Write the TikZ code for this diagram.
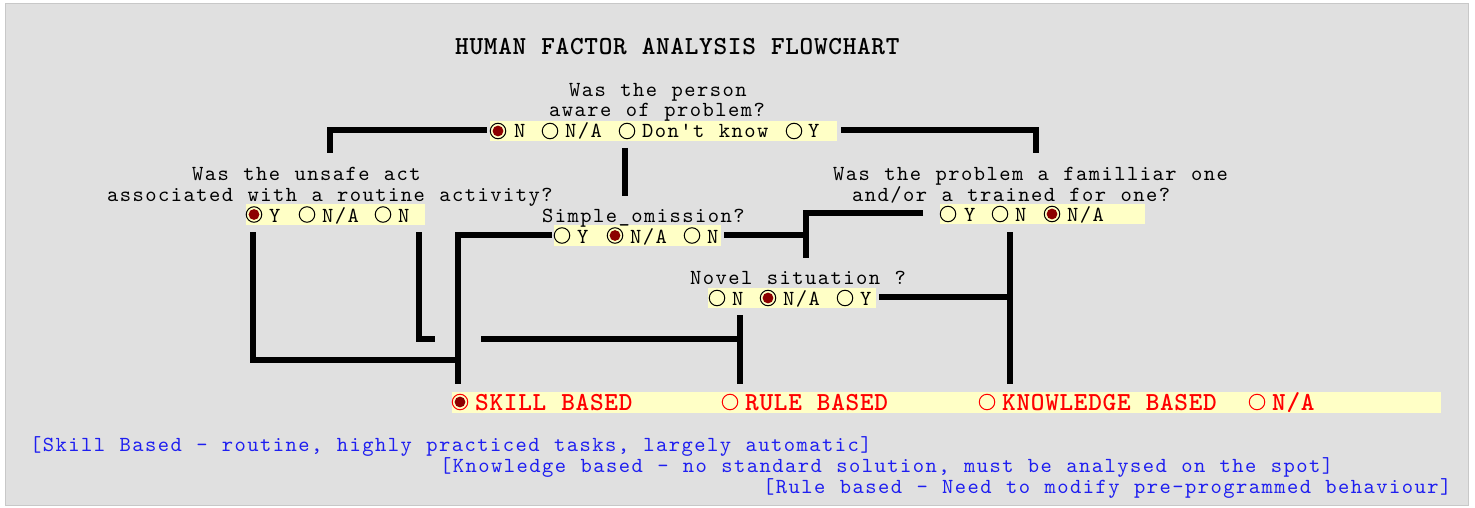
\documentclass[tikz,border=0pt]{standalone}
\usepackage{fontspec}
% typewriter faces, spaced to a fixed pitch
\newfontfamily\qfont{lmmono10-regular.otf}[LetterSpace=6.8,WordSpace={1.129,0,0}]
\newfontfamily\hfont{lmmonolt10-bold.otf}[LetterSpace=2.7,WordSpace={1.051,0,0}]
\definecolor{panel}{RGB}{224,224,224}
\definecolor{paneledge}{RGB}{200,200,200}
\definecolor{barfill}{RGB}{255,255,198}
\definecolor{selred}{RGB}{140,0,0}
\definecolor{resred}{RGB}{255,0,0}
\definecolor{noteblue}{RGB}{30,30,240}
\tikzset{
  q/.style={font=\qfont\fontsize{21.5}{26}\selectfont, anchor=base west, inner sep=0pt, text=black},
  note/.style={q, text=noteblue},
  heading/.style={font=\hfont\fontsize{26}{31}\selectfont, anchor=base west, inner sep=0pt, text=black},
  result/.style={heading, text=resred},
  bar/.style={fill=barfill, draw=none, anchor=north west, inner sep=0pt, outer sep=0pt},
  radio/.style={circle, draw=black, line width=1pt, inner sep=0pt, minimum size=15.5pt},
  selradio/.style={radio, path picture={\fill[selred] (path picture bounding box.center) circle (5.4pt);}},
  rradio/.style={radio, draw=resred},
  rselradio/.style={rradio, path picture={\fill[selred] (path picture bounding box.center) circle (5.4pt);}},
  wire/.style={line width=5.5pt, black, line join=miter, line cap=butt},
}
\begin{document}
\begin{tikzpicture}[x=1pt,y=-1pt]
\useasboundingbox (0,0) rectangle (1475,508);
\fill[white] (0,0) rectangle (1475,508);
\filldraw[fill=panel, draw=paneledge, line width=0.8pt] (5.5,3.5) rectangle (1468.5,505);

% title
\node[heading] (title) at (455,55) {HUMAN FACTOR ANALYSIS FLOWCHART};

% answer bars
\node[bar, minimum width=347pt, minimum height=20pt] (bar1) at (490,121) {};
\node[bar, minimum width=179pt, minimum height=21pt] (bar2) at (246,204) {};
\node[bar, minimum width=167pt, minimum height=21pt] (bar3) at (554,225) {};
\node[bar, minimum width=205pt, minimum height=20pt] (bar4) at (940,204) {};
\node[bar, minimum width=168pt, minimum height=20pt] (bar5) at (708,288) {};
\node[bar, minimum width=989pt, minimum height=21pt] (barres) at (452,392) {};

% questions
\node[q] (q1a) at (569,97) {Was the person};
\node[q] (q1b) at (549,117) {aware of problem?};
\node[q] (q2a) at (192,180) {Was the unsafe act};
\node[q] (q2b) at (107,201) {associated with a routine activity?};
\node[q] (q3) at (542,222) {Simple\_omission?};
\node[q] (q4a) at (833,180) {Was the problem a familliar one};
\node[q] (q4b) at (852,201) {and/or a trained for one?};
\node[q] (q5) at (690,284) {Novel situation ?};

% question 1 options
\node[selradio] (r1n) at (498,131) {};
\node[q] (l1n) at (514,138) {N};
\node[radio] (r1na) at (550,131) {};
\node[q] (l1na) at (565,138) {N/A};
\node[radio] (r1dk) at (627,131) {};
\node[q] (l1dk) at (642,138) {Don't know};
\node[radio] (r1y) at (794,131) {};
\node[q] (l1y) at (808,138) {Y};

% question 2 options
\node[selradio] (r2y) at (254,214.5) {};
\node[q] (l2y) at (269,222) {Y};
\node[radio] (r2na) at (307,214.5) {};
\node[q] (l2na) at (322,222) {N/A};
\node[radio] (r2n) at (383,214.5) {};
\node[q] (l2n) at (398,222) {N};

% question 3 options
\node[radio] (r3y) at (562,235.5) {};
\node[q] (l3y) at (577,243) {Y};
\node[selradio] (r3na) at (615,235.5) {};
\node[q] (l3na) at (630,243) {N/A};
\node[radio] (r3n) at (692,235.5) {};
\node[q] (l3n) at (707,243) {N};

% question 4 options
\node[radio] (r4y) at (948,214) {};
\node[q] (l4y) at (964,221) {Y};
\node[radio] (r4n) at (1000,214) {};
\node[q] (l4n) at (1015,221) {N};
\node[selradio] (r4na) at (1052,214) {};
\node[q] (l4na) at (1067,221) {N/A};

% question 5 options
\node[radio] (r5n) at (717,298) {};
\node[q] (l5n) at (732,305) {N};
\node[selradio] (r5na) at (768,298) {};
\node[q] (l5na) at (783,305) {N/A};
\node[radio] (r5y) at (845,298) {};
\node[q] (l5y) at (860,305) {Y};

% outcomes
\node[rselradio] (rsk) at (460,402) {};
\node[result] (lsk) at (475,410) {SKILL BASED};
\node[rradio] (rru) at (730,402) {};
\node[result] (lru) at (745,410) {RULE BASED};
\node[rradio] (rkn) at (987,402) {};
\node[result] (lkn) at (1002,410) {KNOWLEDGE BASED};
\node[rradio] (rna) at (1257,402) {};
\node[result] (lna) at (1272,410) {N/A};

% explanatory notes
\node[note] (n1) at (30,451) {[Skill Based - routine, highly practiced tasks, largely automatic]};
\node[note] (n2) at (440,472) {[Knowledge based - no standard solution, must be analysed on the spot]};
\node[note] (n3) at (763,493) {[Rule based - Need to modify pre-programmed behaviour]};

% connector end points and junctions
\coordinate (b1l) at (487,130);
\coordinate (s1) at (330,153);
\coordinate (b1r) at (841,130);
\coordinate (s2) at (1036,153);
\coordinate (s3t) at (625,148);
\coordinate (s3b) at (625,196);
\coordinate (b3l) at (552,235);
\coordinate (sk) at (458,384);
\coordinate (b4l) at (923,213);
\coordinate (s4) at (806,258);
\coordinate (b3r) at (724,235);
\coordinate (t1) at (806,235);
\coordinate (b4d) at (1010,232);
\coordinate (kn) at (1010,384);
\coordinate (b5r) at (879,297);
\coordinate (t2) at (1010,297);
\coordinate (b5d) at (740,315);
\coordinate (ru) at (740,384);
\coordinate (h1) at (481,339);
\coordinate (t3) at (740,339);
\coordinate (b2l) at (253,232);
\coordinate (t4) at (458,360);
\coordinate (b2r) at (419,232);
\coordinate (s5) at (435,339);

% connectors
\draw[wire] (b1l) -| (s1);
\draw[wire] (b1r) -| (s2);
\draw[wire] (s3t) -- (s3b);
\draw[wire] (b3l) -| (sk);
\draw[wire] (b4l) -| (s4);
\draw[wire] (b3r) -- (t1);
\draw[wire] (b4d) -- (kn);
\draw[wire] (b5r) -- (t2);
\draw[wire] (b5d) -- (ru);
\draw[wire] (h1) -- (t3);
\draw[wire] (b2l) |- (t4);
\draw[wire] (b2r) |- (s5);
\end{tikzpicture}
\end{document}
